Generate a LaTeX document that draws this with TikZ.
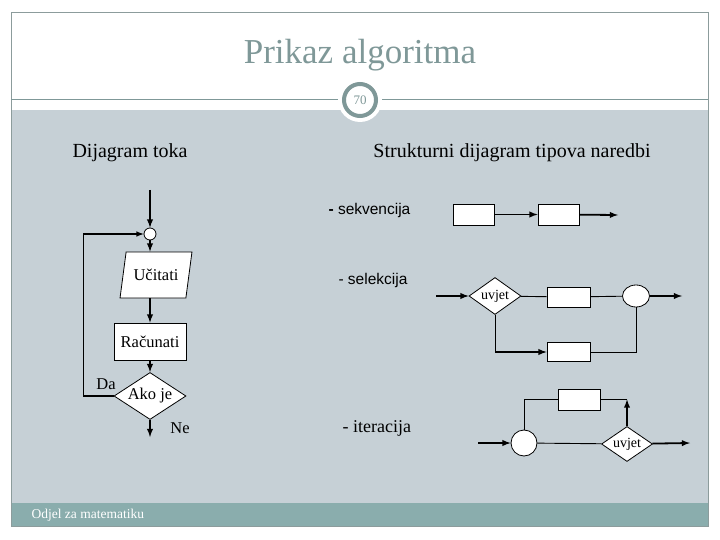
\documentclass[tikz,border=0pt]{standalone}
\usepackage{fontspec}
\setmainfont{Liberation Serif}
\newfontfamily\sansf{Liberation Sans}
\usetikzlibrary{shapes.geometric,arrows}

\definecolor{naslovboja}{HTML}{7F9898}
\definecolor{sivapoz}{HTML}{C6D0D6}
\definecolor{podnozje}{HTML}{8AADAD}
\definecolor{okvirboja}{HTML}{8C9C9C}

\tikzset{
  box/.style={draw, fill=white, line width=0.8pt, inner sep=0pt},
  romb/.style={diamond, draw, fill=white, line width=0.8pt, inner sep=0pt, aspect=1.5},
  arr/.style={-latex, line width=1.8pt},
  ln/.style={line width=0.9pt},
  tekst/.style={font=\fontsize{16.5}{19}\selectfont},
  mali/.style={font=\fontsize{14}{16}\selectfont},
  podnaslov/.style={font=\fontsize{20}{22}\selectfont}
}

\begin{document}
\begin{tikzpicture}[x=1pt, y=-1pt]
		% page and background
		\useasboundingbox (0,0) rectangle (720,540);
		\fill[white] (0,0) rectangle (720,540);
		\fill[sivapoz] (11,110) rectangle (708,503);
		\fill[podnozje] (11,503) rectangle (708,526);
		\draw[okvirboja, line width=0.8pt] (11,12) rectangle (708,526);
		\draw[naslovboja, line width=1pt] (11,100) -- (708,100);
		
		% title and page badge
		\node[text=naslovboja, font=\fontsize{35}{37}\selectfont] (naslov) at (360,55) {Prikaz algoritma};
		\fill[white] (360,100) circle (22);
		\draw[naslovboja, line width=4pt] (360,100) circle (16);
		\node[text=naslovboja, font=\fontsize{13}{14}\selectfont] (broj) at (360,100) {70};
		\node[anchor=west, text=white, font=\fontsize{13.5}{14}\selectfont] (odjel) at (28,515) {Odjel za matematiku};
		
		% headings
		\node[podnaslov] (dijagram) at (130,153) {Dijagram toka};
		\node[podnaslov] (strukt) at (512,153) {Strukturni dijagram tipova naredbi};
		
		% --- flowchart ---
		\coordinate (pocetak) at (150,190);
		\node[circle, draw, fill=white, line width=0.8pt, minimum size=12, inner sep=0pt] (spoj) at (150,234) {};
		\node[trapezium, trapezium left angle=74, trapezium right angle=106, trapezium stretches=true,
		      draw, fill=white, line width=0.8pt, minimum width=72, minimum height=46, tekst] (ucitati) at (156,275) {Učitati};
		\node[box, minimum width=72, minimum height=37, tekst] (racunati) at (150,341.5) {Računati};
		\node[romb, minimum width=72, minimum height=47, tekst] (akoje) at (150,396) {Ako je};
		\coordinate (kraj) at (150,437);
		\node[tekst] (da) at (106,384) {Da};
		\node[tekst] (ne) at (180,428) {Ne};
		
		\draw[arr] (pocetak) -- (spoj);
		\draw[arr] (spoj) -- (spoj |- ucitati.north);
		\draw[arr] (ucitati.south -| spoj) -- (racunati);
		\draw[arr] (racunati) -- (akoje);
		\draw[arr] (akoje) -- (kraj);
		\draw[-latex, line width=1.5pt] (akoje.west) -- ++(-30,0) |- (spoj);
		
		% --- sekvencija ---
		\node[anchor=west, font=\sansf\fontsize{15.5}{17}\selectfont] (sekv) at (325,210) {\textbf{-} sekvencija};
		\node[box, minimum width=41, minimum height=21] (s1) at (473.5,214.5) {};
		\node[box, minimum width=41, minimum height=21] (s2) at (558.5,214.5) {};
		\coordinate (s3) at (618,215);
		\draw[arr] (s1) -- (s2);
		\draw[arr] (s2) -- (s3);
		
		% --- selekcija ---
		\node[anchor=west, font=\sansf\fontsize{15.5}{17}\selectfont] (selek) at (335,280) {- selekcija};
		\coordinate (selul) at (436,296);
		\node[romb, minimum width=52, minimum height=37, mali] (uvjet1) at (495,296) {uvjet};
		\node[box, minimum width=43, minimum height=20] (sel1) at (568.5,297) {};
		\node[ellipse, draw, fill=white, line width=0.8pt, minimum width=27, minimum height=22] (spoj1) at (636,296) {};
		\node[box, minimum width=43, minimum height=19] (sel2) at (568.5,352) {};
		\coordinate (selizl) at (682,296);
		\coordinate (selugao) at (uvjet1.south |- sel2);
		\draw[arr] (selul) -- (uvjet1);
		\draw[ln] (uvjet1) -- (sel1) -- (spoj1);
		\draw[arr] (spoj1) -- (selizl);
		\draw[ln] (uvjet1.south) -- (selugao);
		\draw[arr] (selugao) -- (sel2);
		\draw[ln] (sel2) -| (spoj1.south);
		
		% --- iteracija ---
		\node[anchor=west, font=\fontsize{18}{20}\selectfont] (iter) at (339,428) {- iteracija};
		\coordinate (itul) at (478,443);
		\node[circle, draw, fill=white, line width=0.8pt, minimum size=26, inner sep=0pt] (spoj2) at (524,443) {};
		\node[romb, minimum width=51, minimum height=35, mali] (uvjet2) at (627,444) {uvjet};
		\node[box, minimum width=42, minimum height=21] (tijelo) at (579,399.5) {};
		\coordinate (itizl) at (690,443);
		\coordinate (ugao) at (tijelo.east -| uvjet2.north);
		\draw[arr] (itul) -- (spoj2);
		\draw[ln] (spoj2) -- (uvjet2);
		\draw[arr] (uvjet2) -- (itizl);
		\draw[ln] (spoj2.north) |- (tijelo);
		\draw[ln] (tijelo) -- (ugao);
		\draw[arr] (uvjet2.north) -- (ugao);
	\end{tikzpicture}
\end{document}
